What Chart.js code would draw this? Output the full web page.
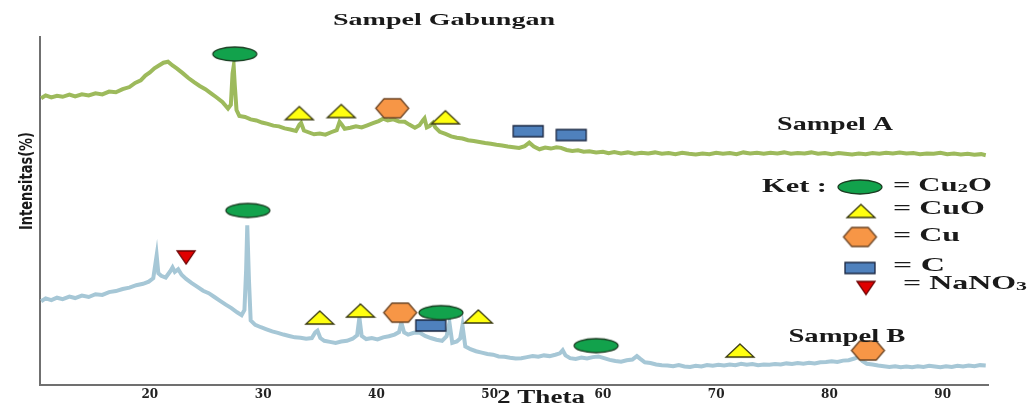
<!DOCTYPE html>
<html>
<head>
<meta charset="utf-8">
<script src="https://cdn.jsdelivr.net/npm/chart.js@4/dist/chart.umd.min.js"></script>
<style>
    body { margin: 0; background: #fff; }
    #wrap { width: 1029px; height: 408px; position: relative; }
</style>
</head>
<body>
<div id="wrap"><canvas id="xrdChart"></canvas></div>
<script>
// X axis tick labels (2 Theta)
const xTicks = [20, 30, 40, 50, 60, 70, 80, 90];

// Sampel A (upper, green)
const thetaA = [10.4, 10.8, 11.3, 11.8, 12.3, 12.9, 13.4, 14.0, 14.6, 15.2, 15.8, 16.4, 17.0, 17.6, 18.2, 18.7,
    19.2, 19.6, 20.0, 20.4, 20.8, 21.2, 21.6, 22.0, 22.4, 22.9, 23.4, 23.9, 24.4, 24.9, 25.4, 25.9, 26.4, 26.9,
    27.15, 27.3, 27.4, 27.5, 27.65, 27.9, 28.4, 28.9, 29.4, 29.9, 30.4, 30.9, 31.4, 31.9, 32.4, 32.9, 33.2, 33.35,
    33.6, 34.0, 34.5, 35.0, 35.5, 36.0, 36.5, 36.75, 36.95, 37.2, 37.7, 38.2, 38.7, 39.2, 39.7, 40.2, 40.6, 41.0,
    41.5, 42.0, 42.5, 42.9, 43.4, 43.8, 44.1, 44.25, 44.45, 44.7, 45.0, 45.2, 45.6, 46.1, 46.6, 47.1, 47.6, 48.1,
    48.6, 49.1, 49.6, 50.1, 50.6, 51.1, 51.6, 52.1, 52.6, 53.1, 53.5, 53.9, 54.4, 54.9, 55.4, 55.9, 56.3, 56.8,
    57.3, 57.8, 58.3, 58.8, 59.4, 60.0, 60.5, 61.0, 61.6, 62.2, 62.8, 63.4, 64.0, 64.6, 65.2, 65.8, 66.4, 67.0,
    67.6, 68.2, 68.8, 69.4, 70.0, 70.6, 71.2, 71.8, 72.4, 73.0, 73.6, 74.2, 74.8, 75.4, 76.0, 76.6, 77.2, 77.8,
    78.4, 79.0, 79.6, 80.2, 80.8, 81.4, 82.0, 82.6, 83.2, 83.8, 84.4, 85.0, 85.6, 86.2, 86.8, 87.4, 88.0, 88.6,
    89.2, 89.8, 90.4, 91.0, 91.6, 92.2, 92.8, 93.4, 93.8];
const intensA = [82.4, 83.2, 82.6, 83.1, 82.8, 83.4, 82.9, 83.5, 83.2, 83.8, 83.5, 84.3, 84.1, 85.0, 85.6, 86.8,
    87.5, 88.9, 89.8, 91.0, 91.8, 92.6, 92.9, 91.8, 90.9, 89.6, 88.2, 87.0, 85.9, 85.0, 83.8, 82.6, 81.3, 79.4,
    80.5, 89.5, 91.6, 86.0, 79.0, 77.3, 77.0, 76.3, 76.0, 75.4, 75.0, 74.5, 74.3, 73.7, 73.4, 73.0, 74.8, 75.3,
    73.1, 72.6, 72.0, 72.2, 71.9, 72.6, 73.2, 75.6, 74.8, 73.6, 73.9, 74.3, 74.0, 74.6, 75.2, 75.8, 76.5, 76.0,
    76.3, 75.7, 75.6, 74.8, 73.9, 74.6, 76.0, 76.6, 74.0, 74.4, 75.3, 74.0, 72.7, 72.1, 71.4, 71.0, 70.8, 70.3,
    70.1, 69.8, 69.5, 69.3, 69.0, 68.8, 68.5, 68.3, 68.1, 68.6, 69.6, 68.5, 67.7, 68.2, 67.9, 68.3, 68.1, 67.5,
    67.2, 67.4, 67.0, 67.1, 66.8, 67.0, 66.6, 66.9, 66.5, 66.8, 66.4, 66.7, 66.5, 66.8, 66.4, 66.6, 66.3, 66.7,
    66.4, 66.2, 66.5, 66.3, 66.7, 66.4, 66.6, 66.3, 66.8, 66.5, 66.7, 66.4, 66.7, 66.5, 66.8, 66.4, 66.6, 66.5,
    66.8, 66.4, 66.6, 66.3, 66.6, 66.4, 66.2, 66.5, 66.3, 66.6, 66.4, 66.7, 66.5, 66.8, 66.5, 66.6, 66.3, 66.5,
    66.4, 66.7, 66.3, 66.5, 66.2, 66.4, 66.1, 66.3, 66.0];

// Sampel B (lower, light blue)
const thetaB = [10.4, 10.8, 11.3, 11.8, 12.3, 12.9, 13.4, 14.0, 14.6, 15.2, 15.8, 16.4, 17.0, 17.6, 18.2, 18.8,
    19.4, 19.9, 20.3, 20.5, 20.6, 20.75, 21.0, 21.4, 21.8, 22.0, 22.2, 22.5, 22.8, 23.2, 23.7, 24.2, 24.7, 25.2,
    25.7, 26.2, 26.7, 27.2, 27.7, 28.1, 28.35, 28.5, 28.6, 28.75, 28.9, 29.3, 29.8, 30.3, 30.8, 31.3, 31.8, 32.3,
    32.8, 33.3, 33.8, 34.3, 34.6, 34.8, 35.05, 35.4, 35.9, 36.4, 36.9, 37.4, 37.9, 38.3, 38.5, 38.7, 39.1, 39.6,
    40.1, 40.6, 41.1, 41.6, 42.0, 42.2, 42.45, 42.8, 43.3, 43.8, 44.3, 44.8, 45.3, 45.8, 46.2, 46.45, 46.7, 47.1,
    47.4, 47.6, 47.85, 48.3, 48.8, 49.3, 49.8, 50.3, 50.8, 51.3, 51.8, 52.3, 52.8, 53.3, 53.8, 54.3, 54.8, 55.3,
    55.8, 56.2, 56.45, 56.7, 57.1, 57.6, 58.1, 58.6, 59.1, 59.6, 60.1, 60.6, 61.1, 61.6, 62.1, 62.6, 63.0, 63.3,
    63.7, 64.2, 64.7, 65.2, 65.7, 66.2, 66.7, 67.2, 67.7, 68.2, 68.7, 69.2, 69.7, 70.2, 70.7, 71.2, 71.7, 72.2,
    72.7, 73.2, 73.7, 74.2, 74.7, 75.2, 75.7, 76.2, 76.7, 77.2, 77.7, 78.2, 78.7, 79.2, 79.7, 80.2, 80.7, 81.2,
    81.7, 82.2, 82.6, 82.9, 83.3, 83.8, 84.3, 84.8, 85.3, 85.8, 86.3, 86.8, 87.3, 87.8, 88.3, 88.8, 89.3, 89.8,
    90.3, 90.8, 91.3, 91.8, 92.3, 92.8, 93.3, 93.8];
const intensB = [24.0, 24.8, 24.3, 25.0, 24.6, 25.3, 24.9, 25.6, 25.2, 26.0, 25.8, 26.6, 26.9, 27.5, 27.9, 28.6,
    29.0, 29.6, 30.6, 35.0, 37.2, 32.0, 31.3, 30.8, 32.6, 33.7, 32.4, 33.2, 31.6, 30.4, 29.2, 28.1, 27.0, 26.3,
    25.2, 24.1, 23.0, 22.0, 20.8, 20.0, 21.5, 33.0, 45.8, 30.0, 18.5, 17.2, 16.5, 15.9, 15.3, 14.9, 14.4, 14.0,
    13.6, 13.5, 13.2, 13.4, 15.0, 15.5, 13.4, 12.6, 12.3, 12.0, 12.4, 12.6, 13.2, 14.2, 19.3, 14.0, 13.1, 13.4,
    13.0, 13.6, 13.9, 14.4, 15.1, 17.9, 15.0, 14.4, 14.9, 15.0, 14.0, 13.4, 12.9, 12.6, 13.9, 17.8, 12.0, 12.4,
    13.3, 17.0, 11.0, 10.2, 9.6, 9.2, 8.8, 8.6, 8.1, 8.0, 7.7, 7.5, 7.6, 7.9, 8.2, 8.0, 8.4, 8.2,
    8.6, 9.0, 9.9, 8.4, 7.6, 7.4, 7.8, 7.5, 7.9, 8.1, 7.6, 7.1, 6.8, 6.6, 7.0, 7.2, 8.2, 7.4,
    6.4, 6.2, 5.8, 5.6, 5.5, 5.3, 5.6, 5.2, 5.1, 5.4, 5.2, 5.6, 5.4, 5.7, 5.5, 5.8, 5.6, 6.0,
    5.7, 5.9, 5.6, 5.8, 5.7, 5.9, 5.8, 6.1, 5.9, 6.2, 6.0, 6.3, 6.1, 6.4, 6.5, 6.7, 6.5, 6.9,
    7.0, 7.5, 8.0, 6.8, 6.0, 5.8, 5.5, 5.3, 5.1, 5.3, 5.0, 5.2, 5.0, 5.3, 5.1, 5.4, 5.2, 5.0,
    5.3, 5.1, 5.4, 5.2, 5.5, 5.3, 5.6, 5.5];

// Phase markers: [2 theta, height]
const cu2oPeaks = [[27.5, 95.1], [28.65, 50.1], [45.7, 20.7], [59.4, 11.2]];
const cuoPeaks = [[33.2, 78.1], [36.9, 78.7], [46.1, 76.9], [35.0, 19.3], [38.6, 21.3], [49.0, 19.6], [72.1, 9.8]];
const cuPeaks = [[41.4, 79.5], [42.1, 20.7], [83.4, 9.8]];
const cPeaks = [[53.4, 72.9], [57.2, 71.8], [44.8, 17.0]];
const nano3Peaks = [[23.2, 36.6]];

function zip(xs, ys) {
    return xs.map((x, i) => ({ x: x, y: ys[i] }));
}
function pts(list) {
    return list.map(p => ({ x: p[0], y: p[1] }));
}

// build little canvases to use as point styles
function makeMarker(shape, w, h, fill, stroke) {
    const c = document.createElement('canvas');
    c.width = w + 4;
    c.height = h + 4;
    const g = c.getContext('2d');
    const cx = c.width / 2, cy = c.height / 2;
    g.fillStyle = fill;
    g.strokeStyle = stroke;
    g.lineWidth = 1.3;
    g.beginPath();
    if (shape === 'ellipse') {
        g.ellipse(cx, cy, w / 2, h / 2, 0, 0, Math.PI * 2);
    } else if (shape === 'triangle') {
        g.moveTo(cx, cy - h / 2);
        g.lineTo(cx + w / 2, cy + h / 2);
        g.lineTo(cx - w / 2, cy + h / 2);
        g.closePath();
    } else if (shape === 'down') {
        g.moveTo(cx - w / 2, cy - h / 2);
        g.lineTo(cx + w / 2, cy - h / 2);
        g.lineTo(cx, cy + h / 2);
        g.closePath();
    } else if (shape === 'hexagon') {
        const q = w * 0.25;
        g.moveTo(cx - w / 2, cy);
        g.lineTo(cx - w / 2 + q, cy - h / 2);
        g.lineTo(cx + w / 2 - q, cy - h / 2);
        g.lineTo(cx + w / 2, cy);
        g.lineTo(cx + w / 2 - q, cy + h / 2);
        g.lineTo(cx - w / 2 + q, cy + h / 2);
        g.closePath();
    } else {
        g.rect(cx - w / 2, cy - h / 2, w, h);
    }
    g.fill();
    g.stroke();
    return c;
}

const mkCu2O = makeMarker('ellipse', 44, 14, '#12a24c', '#1b3d22');
const mkCuO = makeMarker('triangle', 28, 13, '#ffff10', '#3a3a10');
const mkCu = makeMarker('hexagon', 33, 19, '#f79646', '#6b4424');
const mkC = makeMarker('rect', 30, 11, '#4f81bd', '#1a2640');
const mkNaNO3 = makeMarker('down', 18, 13, '#e00000', '#6a0000');

function markerSet(label, data, style) {
    return {
        type: 'scatter',
        label: label,
        data: pts(data),
        pointStyle: style,
        pointRadius: 6,
        pointHoverRadius: 6,
        showLine: false,
        order: 1
    };
}

const serif = '"Liberation Serif", "DejaVu Serif", serif';

// draw runs of text (size, text, dy) squeezed/stretched to a given width
function wideText(ctx, runs, left, cy, width) {
    let natural = 0;
    runs.forEach(r => {
        ctx.font = 'bold ' + r[0] + 'px ' + serif;
        natural += ctx.measureText(r[1]).width;
    });
    ctx.save();
    ctx.translate(left, cy);
    ctx.scale(width / natural, 1);
    let x = 0;
    runs.forEach(r => {
        ctx.font = 'bold ' + r[0] + 'px ' + serif;
        ctx.fillText(r[1], x, r[2] || 0);
        x += ctx.measureText(r[1]).width;
    });
    ctx.restore();
}

// text, legend key and axis titles
const annotations = {
    id: 'annotations',
    afterDatasetsDraw(chart) {
        const ctx = chart.ctx;
        const xs = chart.scales.x, ys = chart.scales.y;
        ctx.save();
        ctx.fillStyle = '#1a1a1a';
        ctx.textBaseline = 'middle';
        ctx.textAlign = 'left';

        wideText(ctx, [[16, 'Sampel Gabungan']], 333, 21, 222);

        wideText(ctx, [[19, 'Sampel A']], xs.getPixelForValue(80.5) - 58, ys.getPixelForValue(74.6), 116);
        wideText(ctx, [[19, 'Sampel B']], xs.getPixelForValue(81.5) - 58, ys.getPixelForValue(13.8), 117);

        wideText(ctx, [[19, '2 Theta']], 497, 398, 88);

        // legend
        wideText(ctx, [[19, 'Ket :']], 762, 187, 65);
        ctx.drawImage(mkCu2O, 860 - mkCu2O.width / 2, 187 - mkCu2O.height / 2);
        ctx.drawImage(mkCuO, 861 - mkCuO.width / 2, 211 - mkCuO.height / 2);
        ctx.drawImage(mkCu, 860 - mkCu.width / 2, 237 - mkCu.height / 2);
        ctx.drawImage(mkC, 860 - mkC.width / 2, 268 - mkC.height / 2);
        ctx.drawImage(mkNaNO3, 866 - mkNaNO3.width / 2, 288 - mkNaNO3.height / 2);
        wideText(ctx, [[19, '= Cu'], [13, '2', 3], [19, 'O']], 893, 186, 99);
        wideText(ctx, [[19, '= CuO']], 893, 209, 92);
        wideText(ctx, [[19, '= Cu']], 893, 236, 67);
        wideText(ctx, [[19, '= C']], 893, 266, 52);
        wideText(ctx, [[19, '= NaNO'], [13, '3', 3]], 903, 284, 124);

        // y axis title
        ctx.translate(27, 181);
        ctx.rotate(-Math.PI / 2);
        ctx.font = 'bold 18px "Liberation Sans Narrow", "DejaVu Sans Condensed", sans-serif';
        const w = ctx.measureText('Intensitas(%)').width;
        ctx.scale(98 / w, 1);
        ctx.textAlign = 'center';
        ctx.fillText('Intensitas(%)', 0, 0);
        ctx.restore();
    }
};

document.addEventListener('DOMContentLoaded', function() {
    const ctx = document.getElementById('xrdChart').getContext('2d');
    new Chart(ctx, {
        type: 'line',
        data: {
            datasets: [
                markerSet('Cu2O', cu2oPeaks, mkCu2O),
                markerSet('CuO', cuoPeaks, mkCuO),
                markerSet('Cu', cuPeaks, mkCu),
                markerSet('C', cPeaks, mkC),
                markerSet('NaNO3', nano3Peaks, mkNaNO3),
                {
                    label: 'Sampel A',
                    data: zip(thetaA, intensA),
                    borderColor: '#9dba5c',
                    borderWidth: 4,
                    pointRadius: 0,
                    tension: 0,
                    order: 2
                },
                {
                    label: 'Sampel B',
                    data: zip(thetaB, intensB),
                    borderColor: '#a6c7d6',
                    borderWidth: 4,
                    pointRadius: 0,
                    tension: 0,
                    order: 2
                }
            ]
        },
        options: {
            responsive: true,
            maintainAspectRatio: false,
            animation: false,
            layout: {
                padding: { left: 40, right: 41, top: 37, bottom: 3 }
            },
            plugins: {
                legend: { display: false },
                tooltip: { enabled: false }
            },
            scales: {
                x: {
                    type: 'linear',
                    min: 10.3,
                    max: 94,
                    afterBuildTicks: function(scale) {
                        scale.ticks = xTicks.map(v => ({ value: v }));
                    },
                    grid: { display: false, drawTicks: false },
                    border: { color: '#707070', width: 2 },
                    ticks: {
                        color: '#222',
                        padding: 3,
                        maxRotation: 0,
                        font: { family: '"DejaVu Serif", serif', size: 12, weight: 'bold' }
                    }
                },
                y: {
                    min: 0,
                    max: 100,
                    grid: { display: false, drawTicks: false },
                    border: { color: '#707070', width: 2 },
                    ticks: { display: false }
                }
            }
        },
        plugins: [annotations]
    });
});
</script>
</body>
</html>
